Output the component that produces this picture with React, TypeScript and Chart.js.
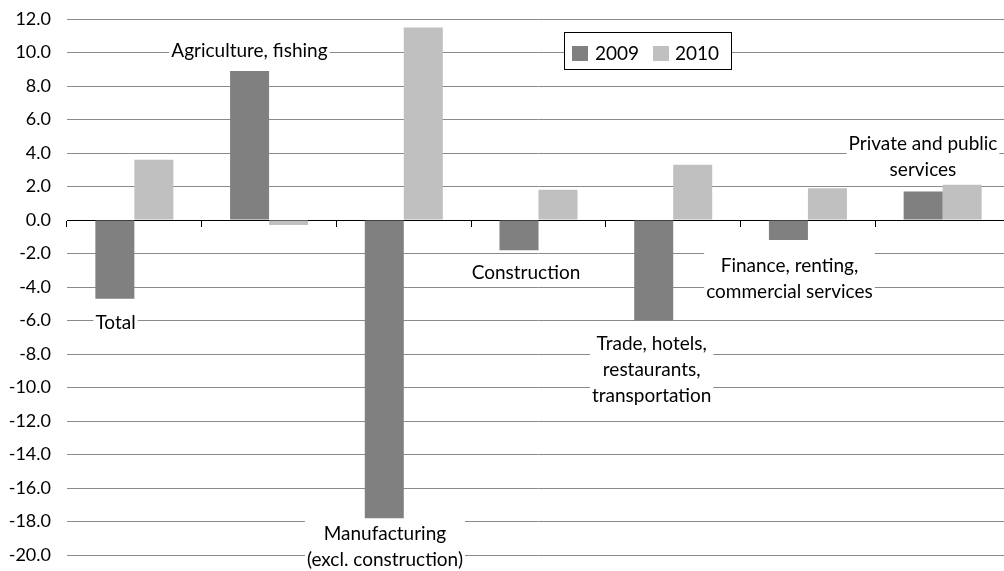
import React, { useEffect, useRef } from "react";
import { Chart, registerables } from "chart.js";

Chart.register(...registerables);

// ---- data ----
const categories = [
  "Total",
  "Agriculture, fishing",
  "Manufacturing (excl. construction)",
  "Construction",
  "Trade, hotels, restaurants, transportation",
  "Finance, renting, commercial services",
  "Private and public services",
];
const seriesNames = ["2009", "2010"];
const values2009 = [-4.7, 8.9, -17.8, -1.8, -6.0, -1.2, 1.7];
const values2010 = [3.6, -0.3, 11.5, 1.8, 3.3, 1.9, 2.1];
const yMin = -20;
const yMax = 12;
const yStep = 2;

// category label text (split into lines) and their anchors
const labelLines = [
  ["Total"],
  ["Agriculture, fishing"],
  ["Manufacturing", "(excl. construction)"],
  ["Construction"],
  ["Trade, hotels,", "restaurants,", "transportation"],
  ["Finance, renting,", "commercial services"],
  ["Private and public", "services"],
];
// y value (data units) of the first line's centre
const labelAnchorY = [-6.08, 10.17, -18.69, -3.09, -7.34, -2.68, 4.63];
// horizontal shift as a fraction of category width
const labelShift = [-0.14, -0.146, -0.14, -0.093, -0.16, -0.137, -0.146];

const COLORS = ["#808080", "#c0c0c0"];
const FONT = "Lato, 'Open Sans', sans-serif";

const labelsPlugin = {
  id: "catLabels",
  afterDatasetsDraw(chart: any) {
    const { ctx, scales } = chart;
    const x = scales.x;
    const y = scales.y;
    const catW = (x.right - x.left) / categories.length;
    const lh = 26;
    ctx.save();
    ctx.font = `19px ${FONT}`;
    ctx.textAlign = "center";
    ctx.textBaseline = "middle";
    labelLines.forEach((lines, i) => {
      const cx = x.getPixelForValue(i) + labelShift[i] * catW;
      const cy = y.getPixelForValue(labelAnchorY[i]);
      const w = Math.max(...lines.map((l) => ctx.measureText(l).width)) + 4;
      const top = cy - lh / 2;
      ctx.fillStyle = "#ffffff";
      ctx.fillRect(cx - w / 2, top, w, lh * lines.length);
      ctx.fillStyle = "#000000";
      lines.forEach((l, k) => ctx.fillText(l, cx, cy + k * lh + 1));
    });

    // legend
    const lx = 564.5, ly = 32.5, lw = 167, lhh = 37;
    ctx.fillStyle = "#ffffff";
    ctx.fillRect(lx, ly, lw, lhh);
    ctx.strokeStyle = "#000000";
    ctx.lineWidth = 1;
    ctx.strokeRect(lx, ly, lw, lhh);
    ctx.font = `19px ${FONT}`;
    ctx.textAlign = "left";
    ctx.textBaseline = "middle";
    const items = [
      { sx: 572, tx: 595 },
      { sx: 653, tx: 675 },
    ];
    chart.data.datasets.forEach((ds: any, i: number) => {
      ctx.fillStyle = ds.backgroundColor;
      ctx.fillRect(items[i].sx, 46, 16, 15);
      ctx.fillStyle = "#000000";
      ctx.fillText(ds.label, items[i].tx, 54);
    });
    ctx.restore();
  },
};

export default function App() {
  const ref = useRef<HTMLCanvasElement>(null);
  useEffect(() => {
    document.body.style.margin = "0";
    document.body.style.overflow = "hidden";
    if (!ref.current) return;
    const chart = new Chart(ref.current, {
      type: "bar",
      data: {
        labels: categories,
        datasets: [
          { label: seriesNames[0], data: values2009, backgroundColor: COLORS[0] },
          { label: seriesNames[1], data: values2010, backgroundColor: COLORS[1] },
        ],
      },
      options: {
        animation: false,
        responsive: false,
        devicePixelRatio: 1,
        layout: { padding: { top: 19, bottom: 16, left: 0, right: 1 } },
        datasets: {
          bar: { categoryPercentage: 0.579, barPercentage: 1 },
        },
        plugins: {
          legend: { display: false },
          tooltip: { enabled: false },
        },
        scales: {
          x: {
            position: { y: 0 } as any,
            ticks: { display: false },
            grid: {
              offset: true,
              drawOnChartArea: false,
              drawTicks: true,
              tickLength: 6,
              color: "#000000",
            },
            border: { display: true, color: "#000000", width: 1 },
          },
          y: {
            min: yMin,
            max: yMax,
            ticks: {
              stepSize: yStep,
              padding: 0,
              color: "#000000",
              font: { family: FONT, size: 18 },
              callback: (v: any) => Number(v).toFixed(1),
            },
            grid: {
              color: "#8a8a8a",
              drawTicks: true,
              tickLength: 16,
              tickColor: "rgba(0,0,0,0)",
            },
            border: { display: false },
            afterFit: (s: any) => {
              s.width = 67;
            },
          },
        },
      },
      plugins: [labelsPlugin],
    });
    return () => chart.destroy();
  }, []);
  return (
    <div style={{ width: 1011, height: 571 }}>
      <canvas ref={ref} width={1011} height={571} style={{ display: "block" }} />
    </div>
  );
}
